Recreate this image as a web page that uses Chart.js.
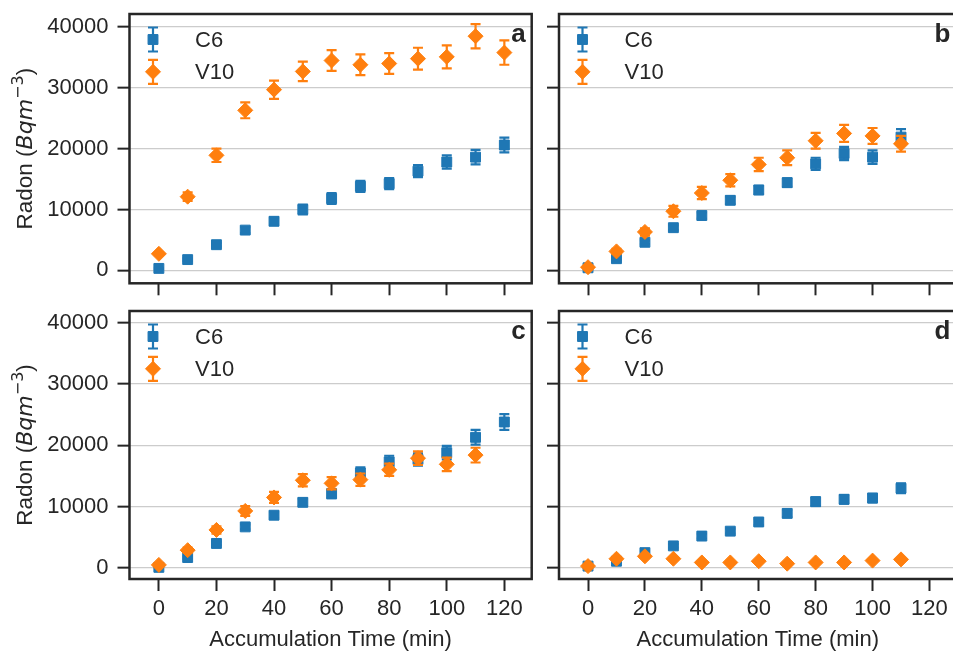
<!doctype html>
<html lang="en">
  <head>
    <meta charset="UTF-8" />
    <title>Radon accumulation</title>
    <script src="https://cdn.jsdelivr.net/npm/chart.js"></script>
    <style>
      body,
      html {
        margin: 0;
        padding: 0;
        background: #ffffff;
      }
      #wrap {
        position: relative;
        width: 953px;
        height: 651px;
        overflow: hidden;
      }
      #wrap canvas {
        position: absolute;
      }
    </style>
  </head>
  <body>
    <div id="wrap">
      <canvas id="chartA" width="545" height="300" style="left: 0; top: 0"></canvas>
      <canvas id="chartB" width="420" height="300" style="left: 545px; top: 0"></canvas>
      <canvas id="chartC" width="545" height="354" style="left: 0; top: 297px"></canvas>
      <canvas id="chartD" width="420" height="354" style="left: 545px; top: 297px"></canvas>
    </div>
    <script>
      // Accumulation times (min)
      const times = [0, 10, 20, 30, 40, 50, 60, 70, 80, 90, 100, 110, 120];
      const xTicks = [0, 20, 40, 60, 80, 100, 120];
      const yTicks = [0, 10000, 20000, 30000, 40000];
      const seriesNames = ["C6", "V10"];
      const panelLabels = ["a", "b", "c", "d"];

      // Panel a
      const aC6 = [300, 1750, 4200, 6600, 8050, 10000, 11800, 13800, 14250, 16300, 17800, 18600, 20600];
      const aC6Err = [100, 200, 300, 500, 600, 800, 900, 900, 900, 1000, 1100, 1200, 1200];
      const aV10 = [2700, 12100, 18900, 26300, 29700, 32700, 34500, 33800, 34000, 34800, 35100, 38500, 35800];
      const aV10Err = [200, 700, 1100, 1300, 1500, 1600, 1700, 1700, 1700, 1800, 1900, 2000, 2000];

      // Panel b
      const bC6 = [400, 1900, 4600, 7000, 9000, 11500, 13200, 14400, 17500, 19200, 18600, 21900];
      const bC6Err = [100, 200, 300, 400, 500, 600, 700, 700, 1000, 1100, 1100, 1300];
      const bV10 = [500, 3100, 6300, 9700, 12700, 14800, 17400, 18500, 21300, 22500, 22100, 20800];
      const bV10Err = [200, 400, 600, 900, 1000, 1000, 1100, 1200, 1300, 1400, 1300, 1300];

      // Panel c
      const cC6 = [100, 1700, 4000, 6700, 8600, 10700, 12100, 15500, 17300, 17700, 18800, 21300, 23800];
      const cC6Err = [100, 200, 300, 400, 500, 600, 700, 900, 1000, 1000, 1100, 1200, 1300];
      const cV10 = [500, 2900, 6200, 9300, 11500, 14300, 13800, 14400, 16000, 17900, 16900, 18400];
      const cV10Err = [200, 400, 600, 800, 900, 1000, 1000, 1000, 1000, 1100, 1100, 1200];

      // Panel d
      const dC6 = [300, 1100, 2500, 3600, 5200, 6000, 7500, 8900, 10800, 11200, 11400, 13000];
      const dC6Err = [100, 200, 300, 300, 400, 400, 500, 600, 700, 700, 700, 800];
      const dV10 = [300, 1500, 1900, 1500, 900, 900, 1100, 700, 900, 900, 1200, 1400];
      const dV10Err = [100, 200, 200, 200, 100, 100, 100, 100, 100, 100, 100, 100];

      const FONT = "'Liberation Sans', Arial, sans-serif";
      const MATH = "'DejaVu Sans', sans-serif";
      const INK = "#262626";
      const BLUE = "#1f77b4";
      const ORANGE = "#ff7f0e";

      Chart.defaults.font.family = FONT;
      Chart.defaults.color = INK;

      function toPoints(values) {
        return values.map((v, i) => ({ x: times[i], y: v }));
      }

      function drawErrorBar(ctx, x, yTop, yBot, color) {
        ctx.save();
        ctx.strokeStyle = color;
        ctx.lineWidth = 2.2;
        ctx.beginPath();
        ctx.moveTo(x, yTop);
        ctx.lineTo(x, yBot);
        ctx.moveTo(x - 5, yTop);
        ctx.lineTo(x + 5, yTop);
        ctx.moveTo(x - 5, yBot);
        ctx.lineTo(x + 5, yBot);
        ctx.stroke();
        ctx.restore();
      }

      // error bars, drawn right under each dataset's own markers
      const errorBars = {
        id: "errorBars",
        beforeDatasetDraw(chart, args) {
          const ds = chart.data.datasets[args.index];
          const y = chart.scales.y;
          args.meta.data.forEach((pt, i) => {
            const v = ds.data[i].y;
            const e = ds.errors[i];
            drawErrorBar(chart.ctx, pt.x, y.getPixelForValue(v + e), y.getPixelForValue(v - e), ds.borderColor);
          });
        },
      };

      // frame, legend, panel letter, y title
      const decorations = {
        id: "decorations",
        afterDraw(chart, args, opts) {
          const ctx = chart.ctx;
          const area = chart.chartArea;
          ctx.save();
          ctx.strokeStyle = INK;
          ctx.lineWidth = 2.5;
          ctx.strokeRect(area.left, area.top, area.right - area.left, area.bottom - area.top);

          // legend
          chart.data.datasets.forEach((ds, i) => {
            const mx = area.left + 23.5;
            const my = area.top + 25.5 + i * 32.3;
            drawErrorBar(ctx, mx, my - 12, my + 12, ds.borderColor);
            ctx.fillStyle = ds.backgroundColor;
            ctx.strokeStyle = ds.borderColor;
            ctx.lineWidth = 1;
            Chart.helpers.drawPoint(ctx, { pointStyle: ds.pointStyle, radius: ds.pointRadius, rotation: 0, borderWidth: 1 }, mx, my);
            ctx.fillStyle = INK;
            ctx.font = "22px " + FONT;
            ctx.textAlign = "left";
            ctx.textBaseline = "middle";
            ctx.fillText(ds.label, area.left + 65.5, my + 1);
          });

          // panel letter
          ctx.fillStyle = INK;
          ctx.font = "bold 26px " + FONT;
          ctx.textAlign = "right";
          ctx.textBaseline = "middle";
          ctx.fillText(opts.letter, area.right - 6, area.top + 21);

          // y axis title: Radon (Bqm^-3)
          if (opts.yTitle) {
            const parts = [
              { t: "Radon (", f: "22.5px " + FONT, dy: 0 },
              { t: "Bqm", f: "italic 22px " + MATH, dy: 0 },
              { t: "\u22123", f: "16px " + MATH, dy: -9 },
              { t: ")", f: "22.5px " + FONT, dy: 0 },
            ];
            let total = 0;
            parts.forEach((p) => {
              ctx.font = p.f;
              p.w = ctx.measureText(p.t).width;
              total += p.w;
            });
            ctx.translate(24, (area.top + area.bottom) / 2);
            ctx.rotate(-Math.PI / 2);
            ctx.textAlign = "left";
            ctx.textBaseline = "alphabetic";
            let x = -total / 2;
            parts.forEach((p) => {
              ctx.font = p.f;
              ctx.fillText(p.t, x, 8 + p.dy);
              x += p.w;
            });
          }
          ctx.restore();
        },
      };

      function makePanel(id, c6, c6Err, v10, v10Err, cfg) {
        const datasets = [
          {
            label: seriesNames[0],
            data: toPoints(c6),
            errors: c6Err,
            pointStyle: "rect",
            pointRadius: 7,
            backgroundColor: BLUE,
            borderColor: BLUE,
            borderWidth: 1,
            order: 2,
          },
          {
            label: seriesNames[1],
            data: toPoints(v10),
            errors: v10Err,
            pointStyle: "rectRot",
            pointRadius: 7.5,
            backgroundColor: ORANGE,
            borderColor: ORANGE,
            borderWidth: 1,
            order: 1,
          },
        ];

        new Chart(document.getElementById(id), {
          type: "scatter",
          data: { datasets },
          plugins: [errorBars, decorations],
          options: {
            responsive: false,
            animation: false,
            devicePixelRatio: 1,
            layout: { padding: { top: cfg.padTop, right: cfg.padRight, left: 0, bottom: 0 } },
            plugins: {
              legend: { display: false },
              tooltip: { enabled: false },
              decorations: { letter: cfg.letter, yTitle: cfg.left },
            },
            scales: {
              x: {
                type: "linear",
                min: -10.2,
                max: 129.5,
                afterBuildTicks: (s) => {
                  s.ticks = xTicks.map((v) => ({ value: v }));
                },
                afterFit: (s) => {
                  s.height = cfg.xHeight;
                  s.paddingLeft = 0;
                  s.paddingRight = 0;
                  s.paddingTop = 0;
                  s.paddingBottom = 0;
                },
                border: { display: false },
                grid: {
                  drawOnChartArea: false,
                  drawTicks: true,
                  tickLength: 12,
                  tickColor: INK,
                  tickWidth: 2,
                },
                ticks: {
                  display: cfg.bottom,
                  font: { size: 22 },
                  color: INK,
                  padding: 5,
                  maxRotation: 0,
                  callback: (v) => String(v),
                },
                title: {
                  display: cfg.bottom,
                  text: "Accumulation Time (min)",
                  font: { size: 22, lineHeight: 1 },
                  color: INK,
                  padding: { top: 0, bottom: 0 },
                },
              },
              y: {
                type: "linear",
                min: cfg.yMin,
                max: cfg.yMax,
                afterBuildTicks: (s) => {
                  s.ticks = yTicks.map((v) => ({ value: v }));
                },
                afterFit: (s) => {
                  s.width = cfg.yWidth;
                  s.paddingLeft = 0;
                  s.paddingRight = 0;
                  s.paddingTop = 0;
                  s.paddingBottom = 0;
                },
                border: { display: false },
                grid: {
                  color: "#cccccc",
                  lineWidth: 1.3,
                  drawTicks: true,
                  tickLength: 12,
                  tickColor: INK,
                  tickWidth: 2,
                },
                ticks: {
                  display: cfg.left,
                  font: { size: 22 },
                  color: INK,
                  padding: 9,
                  callback: (v) => String(v),
                },
              },
            },
          },
        });
      }

      makePanel("chartA", aC6, aC6Err, aV10, aV10Err, {
        letter: panelLabels[0], left: true, bottom: false,
        padTop: 14, padRight: 13.3, yWidth: 129.5, xHeight: 16.7, yMin: -2150, yMax: 42150,
      });
      makePanel("chartB", bC6, bC6Err, bV10, bV10Err, {
        letter: panelLabels[1], left: false, bottom: false,
        padTop: 14, padRight: 4.4, yWidth: 14, xHeight: 16.7, yMin: -2150, yMax: 42150,
      });
      makePanel("chartC", cC6, cC6Err, cV10, cV10Err, {
        letter: panelLabels[2], left: true, bottom: true,
        padTop: 14, padRight: 13.3, yWidth: 129.5, xHeight: 72, yMin: -1800, yMax: 41900,
      });
      makePanel("chartD", dC6, dC6Err, dV10, dV10Err, {
        letter: panelLabels[3], left: false, bottom: true,
        padTop: 14, padRight: 4.4, yWidth: 14, xHeight: 72, yMin: -1800, yMax: 41900,
      });
    </script>
  </body>
</html>
